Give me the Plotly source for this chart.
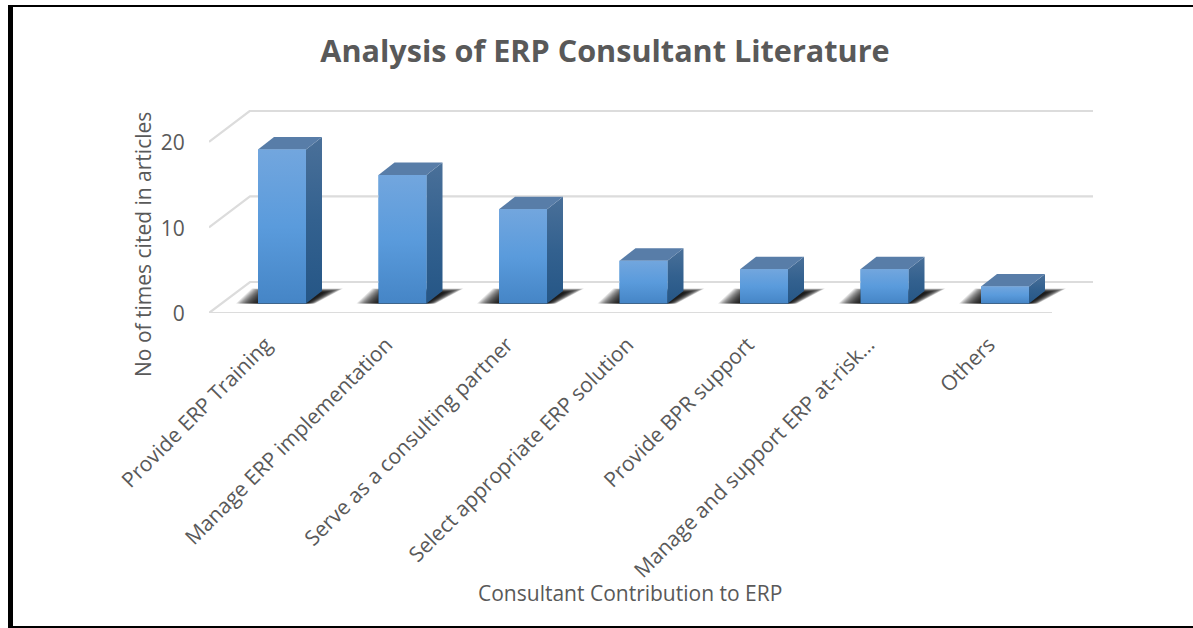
import plotly.graph_objects as go

# ---- data ----
categories = ["Provide ERP Training", "Manage ERP implementation", "Serve as a consulting partner",
              "Select appropriate ERP solution", "Provide BPR support",
              "Manage and support ERP at-risk…", "Others"]
values = [18, 15, 11, 5, 4, 4, 2]
y_ticks = [0, 10, 20]
title_text = "Analysis of ERP Consultant Literature"
x_title = "Consultant Contribution to ERP"
y_title = "No of times cited in articles"

# ---- geometry ----
W, H = 1193, 628
PX_X = 120.5            # pixels per category
PX_Y = 8.56             # pixels per value unit
L, R, T, B = 209, 1093, 110, 313
X0 = 282                # pixel of first category
xr = [(L - X0) / PX_X, (R - X0) / PX_X]
yr = [0, (B - T) / PX_Y]
FONT = "Open Sans"
GREY = "#595959"

def dx(px): return px / PX_X
def dy(px): return px / PX_Y

half = dx(24)
plane_y = dy(9.5)        # bars stand on a plane behind the front edge
dep_x, dep_y = dx(16), dy(12.5)
wall_x, wall_y = dx(41), dy(31)
floor_end = xr[1] - wall_x

fig = go.Figure()

def poly(xs, ys, **kw):
    fig.add_trace(go.Scatter(x=xs + xs[:1], y=ys + ys[:1], mode="lines", fill="toself",
                             line=dict(width=0), hoverinfo="skip", showlegend=False, **kw))

def line(xs, ys):
    fig.add_trace(go.Scatter(x=xs, y=ys, mode="lines", line=dict(color="#dcdcdc", width=2.2),
                             hoverinfo="skip", showlegend=False))

# gridlines
for t in y_ticks:
    line([xr[0], xr[0] + wall_x, xr[1]], [t, t + wall_y, t + wall_y])
line([xr[0], floor_end], [0, 0])

# soft floor shadows: stacked translucent parallelograms, outer to inner
LAYERS = 18
def lerp(a, b, e): return a + (b - a) * e
for i in range(len(values)):
    for k in range(LAYERS):
        e = k / (LAYERS - 1)
        bl = i + dx(lerp(-46, -24, e))
        br = i + dx(lerp(33, 24, e))
        tl = i + dx(lerp(-30, -12, e))
        tr = i + dx(lerp(61, 42, e))
        top = plane_y + dy(lerp(15, 11, e))
        poly([bl, br, tr, tl], [plane_y, plane_y, top, top], fillcolor="rgba(0,0,0,0.11)")

# real bar trace: the front faces
fig.add_trace(go.Bar(x=list(range(len(values))), y=values, base=[plane_y] * len(values),
                     width=half * 2, marker=dict(color="#5b9bd5", line=dict(width=0)),
                     hoverinfo="skip", showlegend=False))

front_grad = dict(type="vertical", colorscale=[[0, "#4585c6"], [0.5, "#5a9bdc"], [1, "#72a6de"]])
side_grad = dict(type="vertical", colorscale=[[0, "#255686"], [0.5, "#33618f"], [1, "#4a7099"]])

for i, v in enumerate(values):
    x1, x2 = i - half, i + half
    y1, y2 = plane_y, plane_y + v
    # right side face
    poly([x2, x2 + dep_x, x2 + dep_x, x2], [y1, y1 + dep_y, y2 + dep_y, y2], fillgradient=side_grad)
    # top face
    poly([x1, x2, x2 + dep_x, x1 + dep_x], [y2, y2, y2 + dep_y, y2 + dep_y], fillcolor="#587da8")
    # front face with gradient
    poly([x1, x2, x2, x1], [y1, y1, y2, y2], fillgradient=front_grad)

def paper_rect(x0, y0, x1, y1):
    return dict(type="rect", xref="paper", yref="paper", x0=x0 / W, x1=x1 / W,
                y0=1 - y0 / H, y1=1 - y1 / H, fillcolor="#000000", line=dict(width=0))

fig.update_layout(
    width=W, height=H, margin=dict(l=0, r=0, t=0, b=0),
    paper_bgcolor="white", plot_bgcolor="white", showlegend=False,
    font=dict(family=FONT, color=GREY, size=21),
    title=dict(text=f"<b>{title_text}</b>", x=605 / W, xanchor="center", y=1 - 51 / H, yanchor="middle",
               font=dict(family=FONT, size=30.6, color=GREY)),
    xaxis=dict(domain=[L / W, R / W], range=xr, tickmode="array", tickvals=list(range(len(values))),
               ticktext=categories, tickangle=-45, showgrid=False, zeroline=False, showline=False,
               ticks="outside", ticklen=10, tickcolor="rgba(0,0,0,0)", automargin=False,
               ticklabelshift=-16,
               tickfont=dict(family=FONT, size=21, color=GREY)),
    yaxis=dict(domain=[1 - B / H, 1 - T / H], range=yr, tickmode="array", tickvals=y_ticks,
               showgrid=False, zeroline=False, showline=False, ticks="outside", ticklen=19,
               tickcolor="rgba(0,0,0,0)", automargin=False, ticklabelshift=1,
               tickfont=dict(family=FONT, size=21, color=GREY)),
    shapes=[paper_rect(8, 5, 13, 628), paper_rect(8, 5, W, 7), paper_rect(8, 626, W, 628)],
    annotations=[
        dict(text=x_title, xref="paper", yref="paper", x=630 / W, y=1 - 593 / H, showarrow=False,
             xanchor="center", yanchor="middle", font=dict(family=FONT, size=21, color=GREY)),
        dict(text=y_title, xref="paper", yref="paper", x=143 / W, y=1 - 245 / H, showarrow=False,
             textangle=-90, xanchor="center", yanchor="middle", font=dict(family=FONT, size=21, color=GREY)),
    ],
)

fig.write_html("out.html", post_script="document.body.style.margin='0';",
               config=dict(displayModeBar=False))
